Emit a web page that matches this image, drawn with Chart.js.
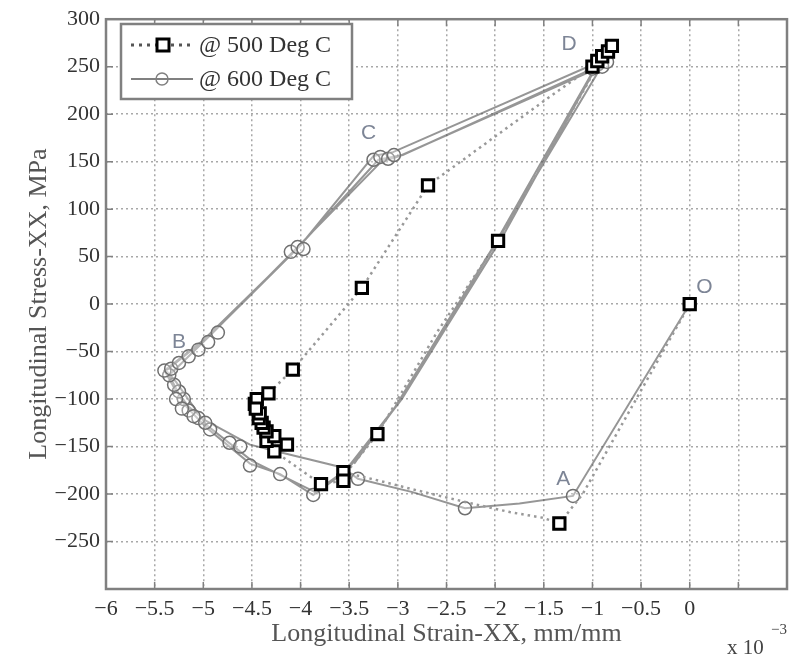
<!DOCTYPE html>
<html>
<head>
<meta charset="UTF-8">
<title>Longitudinal Stress vs Strain</title>
<script src="https://cdn.jsdelivr.net/npm/chart.js"></script>
<style>
  html, body { margin: 0; padding: 0; background: #fff; }
</style>
</head>
<body>
<canvas id="chart" width="798" height="659"></canvas>
<script>
// strain in units of 1e-3 mm/mm, stress in MPa

// 500 Deg C - dotted path and its square markers
const strain500 = [0, -1.1, -1.34, -1.51, -1.85, -2.24, -2.85, -3.19, -3.56, -3.56, -3.79, -4.27, -4.14, -4.35, -4.27, -4.35,
  -4.38, -4.4, -4.43, -4.42, -4.47, -4.45, -4.33, -4.08, -3.37, -2.69, -1.47, -1.0, -0.8, -0.84, -0.88, -0.93, -1.97, -2.6, -3.21, -3.55];
const stress500 = [0, -200, -231, -225, -219, -210, -195, -186, -177, -186, -189.5, -155, -148, -144, -139, -134,
  -130, -125, -120, -115, -105, -100, -94, -69, 17, 125, 216, 250, 272, 266, 260, 254, 66.5, -30, -137, -180];
const markStrain500 = [0, -1.34, -3.56, -3.56, -3.79, -3.21, -4.27, -4.14, -4.35, -4.27, -4.35, -4.38, -4.4, -4.43, -4.42,
  -4.47, -4.45, -4.46, -4.33, -4.08, -3.37, -2.69, -1.97, -1.0, -0.95, -0.9, -0.84, -0.8];
const markStress500 = [0, -231, -177, -186, -189.5, -137, -155, -148, -144, -139, -134, -130, -125, -120, -115,
  -105, -100, -110, -94, -69, 17, 125, 66.5, 250, 256, 261, 266, 272];

// 600 Deg C - solid path (three passes round the loop) and its circle markers
const strain600 = [0, -1.2, -1.75, -2.31, -2.85, -3.41, -3.57, -4.21, -4.52, -4.97, -5.15, -5.3, -5.4, -5.0, -4.04, -3.2,
  -2.95, -0.95, -0.92, -1.97, -3.01, -3.56, -3.87, -4.21, -4.52, -4.97, -5.2, -5.35, -4.95, -4.0, -3.25, -3.05,
  -1.0, -0.97, -1.93, -2.96, -3.5, -3.85, -4.5, -4.97, -5.28, -5.38, -4.92, -4.07, -3.17, -2.98,
  -0.93, -0.99, -2.01, -3.05, -3.45];
const stress600 = [0, -202, -210, -215, -198, -184, -172, -156, -148, -123, -108, -88, -70, -38, 58, 152,
  157, 250, 248, 68, -106, -178, -201, -179, -168, -130, -105, -75, -35, 62, 156, 160,
  252, 248, 70, -100, -172, -198, -165, -127, -82, -70, -32, 56, 150, 156,
  249, 246, 62, -112, -168];
const markStrain600 = [0, -1.2, -2.31, -3.41, -3.87, -4.21, -4.52, -4.73, -4.93, -5.05, -5.15, -5.2, -5.25, -5.3, -5.35,
  -5.4, -5.33, -5.25, -5.15, -5.05, -4.95, -4.85, -5.28, -5.22, -5.1, -4.98, -4.62,
  -4.1, -4.03, -3.97, -3.25, -3.18, -3.1, -3.04, -1.0, -0.95, -0.9, -0.85];
const markStress600 = [0, -202, -215, -184, -201, -179, -170, -146, -132, -120, -112, -100, -92, -85, -75,
  -70, -68, -62, -55, -48, -40, -30, -100, -110, -118, -125, -150,
  55, 60, 58, 152, 155, 153, 157, 248, 252, 250, 255];

// point labels O..D
const pointNames = ['O', 'A', 'B', 'C', 'D'];
const pointNameX = [0.15, -1.3, -5.25, -3.3, -1.24];
const pointNameY = [18, -184, -40, 180, 274];

const seriesNames = ['@ 500 Deg C', '@ 600 Deg C'];

const serif = '"Liberation Serif", "Times New Roman", serif';

function xy(xs, ys) {
  return xs.map((x, i) => ({ x: x, y: ys[i] }));
}
function fmt(v) {
  return String(v).replace('-', '\u2212');
}

const frame = {
  id: 'frame',
  afterDraw(chart) {
    const ctx = chart.ctx;
    const a = chart.chartArea;
    const sx = chart.scales.x, sy = chart.scales.y;
    ctx.save();
    // axes box with inward ticks
    ctx.strokeStyle = '#808080';
    ctx.lineWidth = 2.5;
    ctx.strokeRect(a.left, a.top, a.right - a.left, a.bottom - a.top);
    ctx.lineWidth = 1.5;
    ctx.beginPath();
    sx.ticks.forEach(t => {
      const px = sx.getPixelForValue(t.value);
      ctx.moveTo(px, a.bottom); ctx.lineTo(px, a.bottom - 7);
      ctx.moveTo(px, a.top); ctx.lineTo(px, a.top + 7);
    });
    sy.ticks.forEach(t => {
      const py = sy.getPixelForValue(t.value);
      ctx.moveTo(a.left, py); ctx.lineTo(a.left + 7, py);
      ctx.moveTo(a.right, py); ctx.lineTo(a.right - 7, py);
    });
    ctx.stroke();

    // point letters
    ctx.font = '21px "Liberation Sans", Arial, sans-serif';
    ctx.fillStyle = '#7d8596';
    ctx.textAlign = 'center';
    ctx.textBaseline = 'middle';
    pointNames.forEach((n, i) => {
      ctx.fillText(n, sx.getPixelForValue(pointNameX[i]), sy.getPixelForValue(pointNameY[i]));
    });

    // exponent note
    ctx.fillStyle = '#444';
    ctx.textAlign = 'left';
    ctx.font = '21px ' + serif;
    ctx.fillText('x 10', 727, 648);
    ctx.font = '15px ' + serif;
    ctx.fillText('\u22123', 771, 630);

    // legend
    const lx = 121, ly = 24, lw = 231, lh = 75;
    ctx.fillStyle = '#fff';
    ctx.fillRect(lx, ly, lw, lh);
    ctx.strokeStyle = '#808080';
    ctx.lineWidth = 2.5;
    ctx.strokeRect(lx, ly, lw, lh);

    const r1 = 45, r2 = 79;
    ctx.strokeStyle = '#555';
    ctx.lineWidth = 3;
    ctx.setLineDash([3, 5]);
    ctx.beginPath(); ctx.moveTo(131, r1); ctx.lineTo(193, r1); ctx.stroke();
    ctx.setLineDash([]);
    ctx.fillStyle = '#fff';
    ctx.strokeStyle = '#000';
    ctx.lineWidth = 3;
    ctx.fillRect(157, r1 - 6, 12, 12);
    ctx.strokeRect(157, r1 - 6, 12, 12);

    ctx.strokeStyle = '#808080';
    ctx.lineWidth = 2;
    ctx.beginPath(); ctx.moveTo(131, r2); ctx.lineTo(193, r2); ctx.stroke();
    ctx.lineWidth = 1.5;
    ctx.beginPath(); ctx.arc(162, r2, 6, 0, Math.PI * 2); ctx.stroke();

    ctx.fillStyle = '#333';
    ctx.font = '24px ' + serif;
    ctx.textBaseline = 'middle';
    ctx.fillText(seriesNames[0], 199, r1 + 1);
    ctx.fillText(seriesNames[1], 199, r2 + 1);
    ctx.restore();
  }
};

new Chart(document.getElementById('chart'), {
  type: 'scatter',
  data: {
    datasets: [
      {
        label: seriesNames[0] + ' markers',
        data: xy(markStrain500, markStress500),
        showLine: false,
        pointStyle: 'rect',
        pointRadius: 8,
        pointBorderWidth: 3,
        pointBorderColor: '#000',
        pointBackgroundColor: '#fff'
      },
      {
        label: seriesNames[0],
        data: xy(strain500, stress500),
        showLine: true,
        borderColor: '#999',
        borderWidth: 2.5,
        borderDash: [2.5, 4],
        pointRadius: 0
      },
      {
        label: seriesNames[1] + ' markers',
        data: xy(markStrain600, markStress600),
        showLine: false,
        pointStyle: 'circle',
        pointRadius: 6.5,
        pointBorderWidth: 1.5,
        pointBorderColor: '#707070',
        pointBackgroundColor: 'rgba(255,255,255,0.3)'
      },
      {
        label: seriesNames[1],
        data: xy(strain600, stress600),
        showLine: true,
        borderColor: 'rgba(80,80,80,0.6)',
        borderWidth: 2,
        pointRadius: 0
      }
    ]
  },
  options: {
    responsive: false,
    animation: false,
    devicePixelRatio: 1,
    layout: { padding: { top: 15, right: 11, left: 0, bottom: 0 } },
    plugins: {
      legend: { display: false },
      tooltip: { enabled: false }
    },
    scales: {
      x: {
        type: 'linear',
        min: -6,
        max: 1,
        afterFit: s => { s.height = 70; },
        ticks: {
          stepSize: 0.5,
          padding: 7,
          maxRotation: 0,
          autoSkip: false,
          color: '#333',
          font: { family: serif, size: 22 },
          callback: v => v > 0 ? '' : fmt(v)
        },
        grid: { color: '#a8a8a8', lineWidth: 1.5, drawTicks: false, borderDash: [2, 3] },
        border: { display: false, dash: [2, 3] },
        title: {
          display: true,
          text: 'Longitudinal Strain-XX, mm/mm',
          color: '#555',
          font: { family: serif, size: 26 },
          padding: { top: 0, bottom: 9 }
        }
      },
      y: {
        min: -300,
        max: 300,
        afterFit: s => { s.width = 106; },
        ticks: {
          stepSize: 50,
          padding: 6,
          autoSkip: false,
          color: '#333',
          font: { family: serif, size: 22 },
          callback: v => v === -300 ? '' : fmt(v)
        },
        grid: { color: '#a8a8a8', lineWidth: 1.5, drawTicks: false, borderDash: [2, 3] },
        border: { display: false, dash: [2, 3] },
        title: {
          display: true,
          text: 'Longitudinal Stress-XX, MPa',
          color: '#555',
          font: { family: serif, size: 26 },
          padding: { top: 24, bottom: 0 }
        }
      }
    }
  },
  plugins: [frame]
});
</script>
</body>
</html>
